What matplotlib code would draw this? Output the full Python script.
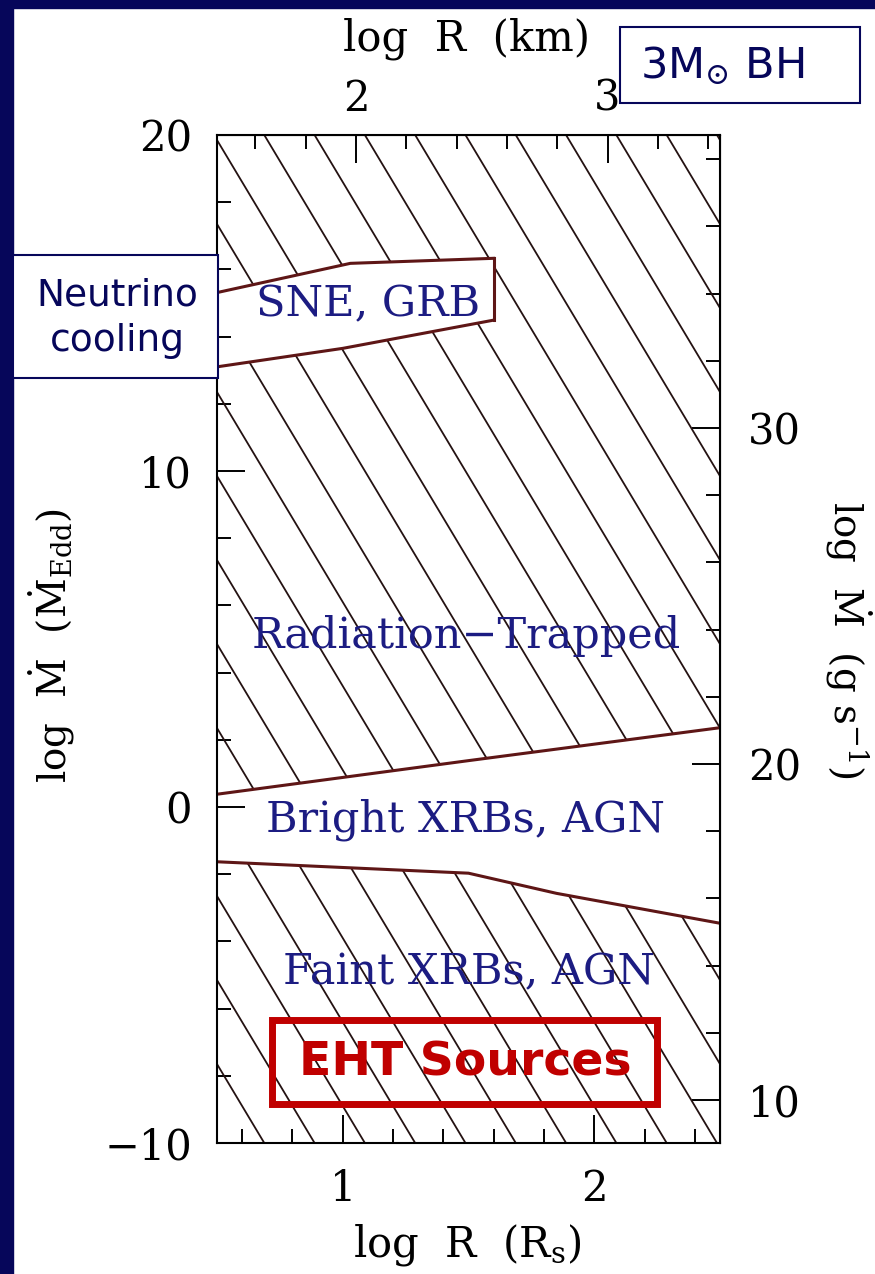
# Accretion regimes for a 3 Msun black hole (log Mdot vs log R)
import matplotlib
matplotlib.use("Agg")
import matplotlib.pyplot as plt
import numpy as np
from matplotlib.patches import Rectangle, Polygon
from matplotlib.collections import LineCollection
from matplotlib.ticker import MultipleLocator

plt.rcParams["mathtext.fontset"] = "dejavuserif"

# boundaries: log R (R_s) vs log Mdot (Mdot_Edd)
sne_top_x = [0.5, 1.03, 1.6]
sne_top_y = [15.31, 16.18, 16.33]
sne_bot_x = [0.5, 1.0, 1.6]
sne_bot_y = [13.10, 13.65, 14.49]
trap_x = [0.5, 1.5, 2.5]
trap_y = [0.38, 1.38, 2.36]
faint_x = [0.5, 1.0, 1.5, 1.85, 2.5]
faint_y = [-1.63, -1.80, -1.97, -2.57, -3.46]

# region names and where they sit
region_names = ["SNE, GRB", "Radiation\u2212Trapped", "Bright XRBs, AGN", "Faint XRBs, AGN"]
region_x = [1.10, 1.49, 1.49, 1.50]
region_y = [14.97, 5.09, -0.39, -4.91]

# axis conversions for the 3 Msun hole
km_offset = 0.947    # log R(km) = log R(R_s) + this
gs_offset = 18.72    # log Mdot(g/s) = log Mdot(Edd) + this

navy = "#06065a"
textblue = "#1c1c82"
curve_col = "#5e1616"

fig = plt.figure(figsize=(8.75, 12.74), dpi=100)
W, H = 875.0, 1274.0

# slide border
fig.patches.append(Rectangle((0, 0), 13 / W, 1, transform=fig.transFigure,
                             color=navy, zorder=0))
fig.patches.append(Rectangle((0, 1 - 8 / H), 1, 8 / H, transform=fig.transFigure,
                             color=navy, zorder=0))

ax = fig.add_axes([217 / W, 1 - 1143 / H, 503 / W, 1008 / H])
ax.set_xlim(0.5, 2.5)
ax.set_ylim(-10, 20)

# hatching: steep lines in data space, clipped to the hatched zones
hatch_slope = 12.5
hatch_step = 2.5
xs = np.array([0.5, 2.5])
segs = [np.column_stack([xs, 26.1 + hatch_step * k - hatch_slope * xs])
        for k in range(-14, 13)]

upper = ([(0.5, 20), (2.5, 20)] + list(zip(trap_x[::-1], trap_y[::-1]))
         + list(zip(sne_bot_x, sne_bot_y)) + list(zip(sne_top_x[::-1], sne_top_y[::-1])))
lower = [(0.5, -10), (2.5, -10)] + list(zip(faint_x[::-1], faint_y[::-1]))

for verts in (upper, lower):
    poly = Polygon(verts, closed=True, facecolor="none", edgecolor="none")
    ax.add_patch(poly)
    lc = LineCollection(segs, colors="#241212", linewidths=1.3)
    ax.add_collection(lc)
    lc.set_clip_path(poly)

# boundary curves
ax.plot(sne_top_x, sne_top_y, color=curve_col, lw=2.2)
ax.plot(sne_bot_x, sne_bot_y, color=curve_col, lw=2.2)
ax.plot([sne_top_x[-1], sne_bot_x[-1]], [sne_top_y[-1], sne_bot_y[-1]], color=curve_col, lw=2.2)
ax.plot(trap_x, trap_y, color=curve_col, lw=2.2)
ax.plot(faint_x, faint_y, color=curve_col, lw=2.2)

for name, x, y in zip(region_names, region_x, region_y):
    ax.text(x, y, name, ha="center", va="center", color=textblue,
            fontsize=31, family="DejaVu Serif")

# ticks
ax.set_xticks([1, 2])
ax.set_yticks([-10, 0, 10, 20])
ax.xaxis.set_minor_locator(MultipleLocator(0.2))
ax.yaxis.set_minor_locator(MultipleLocator(2))
ax.tick_params(which="major", direction="in", length=20, width=1.4, pad=18,
               labelsize=30, top=False, right=False)
ax.tick_params(which="minor", direction="in", length=10, width=1.4,
               top=False, right=False)
for lab in ax.get_xticklabels() + ax.get_yticklabels():
    lab.set_family("DejaVu Serif")
for sp in ax.spines.values():
    sp.set_linewidth(1.5)

top = ax.secondary_xaxis("top", functions=(lambda x: x + km_offset, lambda x: x - km_offset))
top.set_xticks([2, 3])
top.xaxis.set_minor_locator(MultipleLocator(0.2))
top.tick_params(which="major", direction="in", length=20, width=1.4, pad=11, labelsize=30)
top.tick_params(which="minor", direction="in", length=10, width=1.4)
for lab in top.get_xticklabels():
    lab.set_family("DejaVu Serif")

right = ax.secondary_yaxis("right", functions=(lambda y: y + gs_offset, lambda y: y - gs_offset))
right.set_yticks([10, 20, 30])
right.yaxis.set_minor_locator(MultipleLocator(2))
right.tick_params(which="major", direction="in", length=20, width=1.4, pad=20, labelsize=30)
right.tick_params(which="minor", direction="in", length=10, width=1.4)
for lab in right.get_yticklabels():
    lab.set_family("DejaVu Serif")

# axis labels
ax.set_xlabel(r"log  R  (R$_{\rm s}$)", fontsize=30, family="DejaVu Serif")
ax.xaxis.set_label_coords(0.497, -0.101)
ax.xaxis.label.set_va("center")
ax.set_ylabel(r"log  $\dot{\rm M}$  ($\dot{\rm M}_{\rm Edd}$)", fontsize=28, family="DejaVu Serif")
ax.yaxis.set_label_coords(-0.328, 0.494)
ax.yaxis.label.set_va("center")
top.set_xlabel("log  R  (km)", fontsize=30, family="DejaVu Serif")
top.xaxis.set_label_coords(0.497, 1.095, transform=ax.transAxes)
top.xaxis.label.set_va("center")
right.set_ylabel(r"log  $\dot{\rm M}$  (g s$^{-1}$)", fontsize=28, family="DejaVu Serif",
                 rotation=270)
right.yaxis.set_label_coords(1.2545, 0.499, transform=ax.transAxes)
right.yaxis.label.set_va("center")

# annotation boxes
fig.patches.append(Rectangle((13 / W, 1 - 378 / H), 205 / W, 123 / H, transform=fig.transFigure,
                             facecolor="white", edgecolor=navy, lw=1.5, zorder=5))
fig.text(117 / W, 1 - 318 / H, "Neutrino\ncooling", ha="center", va="center",
         color=navy, fontsize=27, family="DejaVu Sans", linespacing=1.35, zorder=6)

fig.patches.append(Rectangle((620 / W, 1 - 103 / H), 240 / W, 76 / H, transform=fig.transFigure,
                             facecolor="white", edgecolor=navy, lw=1.5, zorder=5))
fig.text(640 / W, 1 - 66 / H, r"3M$_{\odot}$ BH", ha="left", va="center",
         color=navy, fontsize=31, family="DejaVu Sans", zorder=6)

fig.patches.append(Rectangle((271.5 / W, 1 - 1103.5 / H), 385 / W, 84 / H, transform=fig.transFigure,
                             facecolor="none", edgecolor="#c00000", lw=5, zorder=5))
fig.text(465 / W, 1 - 1063 / H, "EHT Sources", ha="center", va="center",
         color="#c00000", fontsize=34, family="DejaVu Sans", weight="bold", zorder=6)

fig.savefig("out.png", dpi=100)
